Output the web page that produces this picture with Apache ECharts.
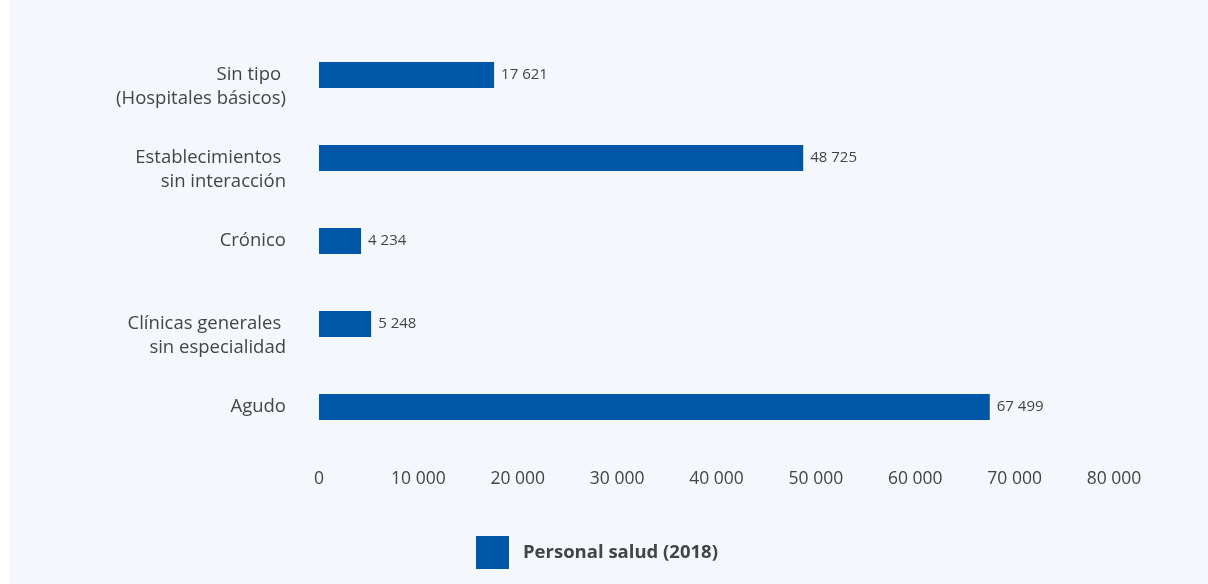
<!DOCTYPE html>
<html>
<head>
<meta charset="utf-8">
<script src="https://cdn.jsdelivr.net/npm/echarts@6/dist/echarts.min.js"></script>
<style>
html,body{margin:0;padding:0;background:#fff;}
#c{width:1208px;height:584px;background:linear-gradient(to right,#ffffff 10px,#f4f7fb 10px);}
</style>
</head>
<body>
<div id="c"></div>
<script>
const categories = [
  'Sin tipo \n(Hospitales básicos)',
  'Establecimientos \nsin interacción',
  'Crónico',
  'Clínicas generales \nsin especialidad',
  'Agudo'
];
const values = [17621, 48725, 4234, 5248, 67499];
const seriesName = 'Personal salud (2018)';
const axisMin = 0, axisMax = 80000, axisStep = 10000;

function fmt(v){ return String(v).replace(/\B(?=(\d{3})+(?!\d))/g, ' '); }
const FF = 'Open Sans';

const chart = echarts.init(document.getElementById('c'), null, {renderer:'canvas'});
chart.setOption({
  backgroundColor: 'transparent',
  textStyle: {fontFamily: FF},
  grid: {left: 319, right: 94, top: 33.5, height: 415, containLabel: false},
  legend: {
    data: [seriesName],
    left: 471, top: 531,
    itemWidth: 33, itemHeight: 33, itemGap: 10,
    icon: 'rect',
    textStyle: {fontSize: 18.5, fontWeight: 'bold', color: '#444', padding: [0,0,0,9], fontFamily: FF}
  },
  xAxis: {
    type: 'value', min: axisMin, max: axisMax, interval: axisStep,
    axisLine: {show: false}, axisTick: {show: false}, splitLine: {show: false},
    axisLabel: {fontSize: 17.5, color: '#444', margin: 22, formatter: fmt, fontFamily: FF}
  },
  yAxis: {
    type: 'category', data: categories, inverse: true,
    axisLine: {show: false}, axisTick: {show: false},
    axisLabel: {
      fontSize: 18.5, color: '#444', margin: 33, lineHeight: 24, align: 'right', verticalAlign: 'middle',
      fontFamily: FF,
      formatter: function(v){ return v.indexOf('\n') >= 0 ? '\u00a0\n' + v : v; }
    }
  },
  series: [{
    name: seriesName, type: 'bar', data: values, barWidth: 26,
    itemStyle: {color: '#0057a7'},
    label: {show: true, position: 'right', distance: 7, fontSize: 15, color: '#444', fontFamily: FF,
      formatter: function(p){ return fmt(p.value); }}
  }],
  animation: false
});
</script>
</body>
</html>
